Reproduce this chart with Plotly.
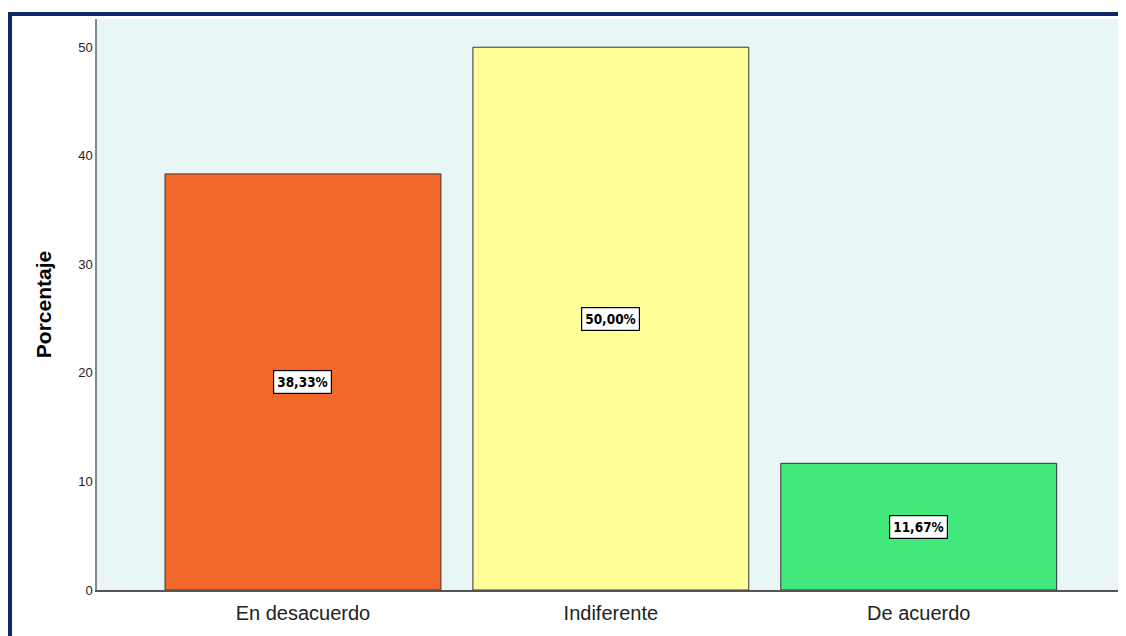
import plotly.graph_objects as go

categories = ["En desacuerdo", "Indiferente", "De acuerdo"]
values = [38.33, 50.00, 11.67]
labels = ["38,33%", "50,00%", "11,67%"]
colors = ["#F2672A", "#FFFF99", "#41E97C"]
y_ticks = [0, 10, 20, 30, 40, 50]

# page has an 8px body margin, so the figure sits at (8, 8)
OFF = 8
W, H = 1126 - OFF, 636 - OFF
L, R, T, B = 97 - OFF, 1125 - OFF, 19 - OFF, 590 - OFF  # plot area in figure pixels

def px(x):
    return (x - L) / (R - L)

def py(y):
    return (B - y) / (B - T)

fig = go.Figure()
fig.add_trace(go.Bar(
    x=categories, y=values, width=0.896,
    marker=dict(color=colors, line=dict(color="#333333", width=1)),
    hoverinfo="skip", showlegend=False,
))

for c, v, t in zip(categories, values, labels):
    fig.add_annotation(
        x=c, y=v / 2, text="<b>" + t + "</b>", showarrow=False,
        font=dict(family="Liberation Sans Narrow, DejaVu Sans Condensed, Liberation Sans", size=13.5, color="#000000"),
        bgcolor="#FFFFFF", bordercolor="#000000", borderwidth=1.2, borderpad=3,
    )

navy = "#0C2A66"
# top frame line
fig.add_shape(type="rect", xref="paper", yref="paper",
              x0=px(0), x1=px(W), y0=py(8), y1=py(4),
              fillcolor=navy, line=dict(width=0), layer="above")
# left frame line
fig.add_shape(type="rect", xref="paper", yref="paper",
              x0=px(0), x1=px(4), y0=py(H), y1=py(4),
              fillcolor=navy, line=dict(width=0), layer="above")

fig.update_layout(
    width=W, height=H,
    margin=dict(l=L, r=W - R, t=T, b=H - B, pad=0),
    paper_bgcolor="#FFFFFF", plot_bgcolor="#E8F6F6",
    bargap=0.1,
    font=dict(family="Liberation Sans, Arial", color="#222222"),
)
fig.update_xaxes(
    range=[-0.669, 2.67], showline=True, linecolor="#555555", linewidth=1.5,
    showgrid=False, ticks="", tickfont=dict(size=20, color="#222222"),
    ticklabelstandoff=4, mirror=False,
)
fig.update_yaxes(
    range=[0, 52.6], tickvals=y_ticks, showline=True, linecolor="#888888", linewidth=1.5,
    showgrid=False, zeroline=False, ticks="", tickfont=dict(size=13, color="#222222"),
    title=dict(text="<b>Porcentaje</b>", font=dict(size=21, color="#000000"), standoff=21),
)

fig.write_html("out.html")
